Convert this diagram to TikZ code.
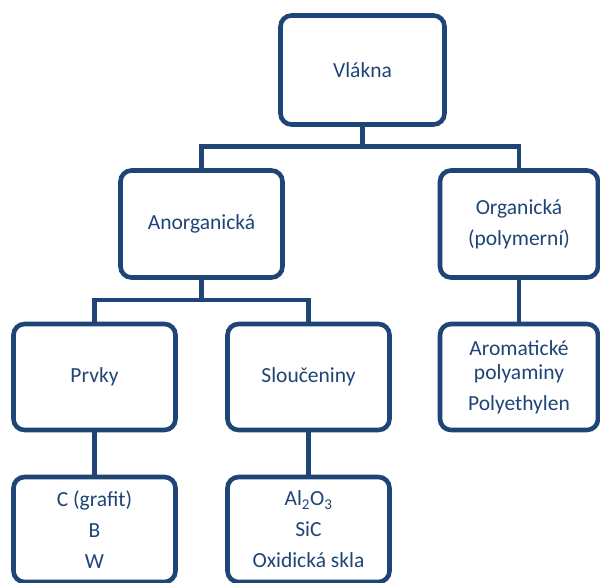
\documentclass[tikz,border=0pt]{standalone}
\usepackage{fontspec}
\setmainfont{Carlito}
\definecolor{navy}{HTML}{1F4576}
\begin{document}
\begin{tikzpicture}[x=1pt,y=-1pt,
  box/.style={draw=navy, line width=4.6pt, rounded corners=11pt, fill=white,
    minimum width=162pt, minimum height=107pt, inner sep=0pt, align=center,
    text=navy, font=\fontsize{21.5}{31}\selectfont},
  conn/.style={draw=navy, line width=4.4pt}]
\path[use as bounding box] (0,0) rectangle (600,583);
\node[box, minimum width=164pt, minimum height=109pt] (v) at (362.5,70) {Vlákna};
\node[box] (a) at (201.5,224) {Anorganická};
\node[box, minimum width=158pt] (o) at (519,224) {Organická\\(polymerní)};
\node[box, minimum height=106pt] (p) at (94.5,377) {Prvky};
\node[box, minimum height=106pt] (s) at (308.5,377) {Sloučeniny};
\node[box, minimum width=158pt, minimum height=106pt] (ar) at (519,377) {Aromatické\\[-7pt]polyaminy\\Polyethylen};
\node[box, minimum height=105pt] (c) at (94.5,529.5) {C (grafit)\\B\\W};
\node[box, minimum height=105pt] (al) at (308.5,529.5) {Al\textsubscript{2}O\textsubscript{3}\\SiC\\Oxidická skla};
\coordinate (j1) at (362.5,146.5);
\coordinate (j2) at (201.5,300);
\draw[conn] (v.south) -- (j1);
\draw[conn] (a.north) |- (j1) -| (o.north);
\draw[conn] (a.south) -- (j2);
\draw[conn] (p.north) |- (j2) -| (s.north);
\draw[conn] (o.south) -- (ar.north);
\draw[conn] (p.south) -- (c.north);
\draw[conn] (s.south) -- (al.north);
\end{tikzpicture}
\end{document}
